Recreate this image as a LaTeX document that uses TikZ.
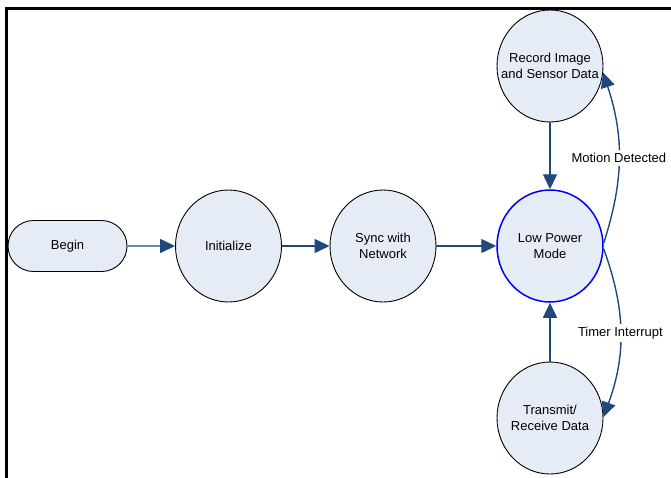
\documentclass[tikz,border=0pt]{standalone}
\usepackage{fontspec}
\setmainfont{Liberation Sans}
\usetikzlibrary{arrows.meta,shapes.geometric,shapes.misc}
\definecolor{nodefill}{RGB}{230,236,246}
\definecolor{connc}{RGB}{31,73,125}
\definecolor{lpblue}{RGB}{0,0,255}
\begin{document}
\begin{tikzpicture}[x=1pt,y=-1pt,
  font=\fontsize{13}{16.5}\selectfont,
  txt/.style={align=center},
  state/.style={ellipse, draw=black, line width=0.9pt, fill=nodefill,
    minimum width=106pt, minimum height=112pt, inner sep=0pt},
  startnode/.style={rounded rectangle, draw=black, fill=nodefill,
    minimum width=119pt, minimum height=51pt, line width=0.9pt, inner sep=0pt},
  conn/.style={draw=connc, line width=1.4pt, -{Triangle[length=15pt,width=14pt]}},
  lbl/.style={fill=white, inner sep=3pt}]
\useasboundingbox (0,0) rectangle (671,477);
\draw[line width=3pt, line join=miter] (6.8,485) -- (6.8,8.3) -- (680,8.3);

\node[startnode] (begin) at (67.5,246) {Begin};
\node[state, label={[txt]center:{Initialize}}] (init) at (228.5,246) {};
\node[state, label={[txt]center:{Sync with\\Network}}] (sync) at (383,246) {};
\node[state, draw=lpblue, line width=1.5pt, label={[txt]center:{Low Power\\Mode}}] (low) at (550,246) {};
\node[state, label={[txt]center:{Record Image\\and Sensor Data}}] (rec) at (550,66) {};
\node[state, label={[txt]center:{Transmit/\\Receive Data}}] (tx) at (550,418) {};

\draw[conn] (begin) -- (init);
\draw[conn] (init) -- (sync);
\draw[conn] (sync) -- (low);
\draw[conn] (rec) -- (low);
\draw[conn] (tx) -- (low);
\draw[conn] (low.3) to[bend right=18] node[lbl] (md) {Motion Detected} (rec.-7);
\draw[conn] (low.-3) to[bend left=20] node[lbl] (ti) {Timer Interrupt} (tx.1);
\end{tikzpicture}
\end{document}
